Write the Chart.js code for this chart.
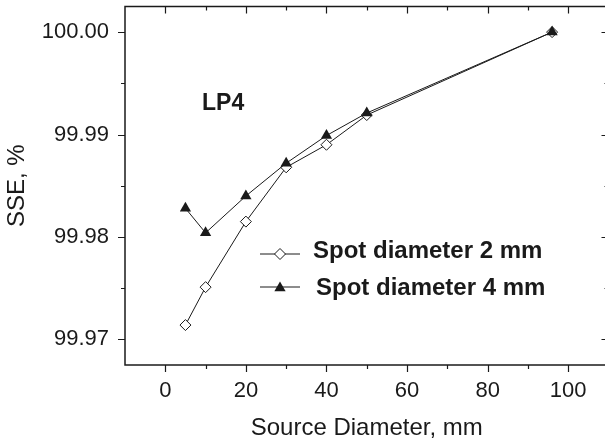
<!DOCTYPE html>
<html>
<head>
<meta charset="utf-8">
<script src="https://cdn.jsdelivr.net/npm/chart.js@4/dist/chart.umd.min.js"></script>
<style>
  html, body { margin: 0; padding: 0; background: #fff; overflow: hidden; }
  #wrap { position: absolute; left: 0; top: 0; width: 615px; height: 443px; }
</style>
</head>
<body>
<div id="wrap"><canvas id="sseChart" width="615" height="443"></canvas></div>
<script>
// source diameter (mm) and SSE (%)
const sourceDiameter = [5, 10, 20, 30, 40, 50, 96];
const sse2mm = [99.9714, 99.9751, 99.9815, 99.9868, 99.9890, 99.9919, 100.0000];
const sse4mm = [99.9828, 99.9804, 99.9840, 99.9872, 99.9899, 99.9921, 100.0000];
const seriesNames = ["Spot diameter 2 mm", "Spot diameter 4 mm"];

const xTicks = [0, 20, 40, 60, 80, 100];
const xMinor = [10, 30, 50, 70, 90];
const yTicks = [99.97, 99.98, 99.99, 100.00];
const yMinor = [99.975, 99.985, 99.995];

const ink = "#1a1a1a";

function toPoints(xs, ys) {
  let pts = [];
  for (let i = 0; i < xs.length; i++) {
    pts.push({x: xs[i], y: ys[i]});
  }
  return pts;
}

function diamond(ctx, x, y, r) {
  ctx.beginPath();
  ctx.moveTo(x, y - r);
  ctx.lineTo(x + r, y);
  ctx.lineTo(x, y + r);
  ctx.lineTo(x - r, y);
  ctx.closePath();
  ctx.fillStyle = "#fff";
  ctx.fill();
  ctx.lineWidth = 1;
  ctx.strokeStyle = ink;
  ctx.stroke();
}

function triangle(ctx, x, y, r) {
  ctx.beginPath();
  ctx.moveTo(x, y - r);
  ctx.lineTo(x + Math.sin(Math.PI / 3) * r, y + r / 2);
  ctx.lineTo(x - Math.sin(Math.PI / 3) * r, y + r / 2);
  ctx.closePath();
  ctx.fillStyle = ink;
  ctx.fill();
}

// frame, ticks on all four sides, the LP4 label and the legend
const framePlugin = {
  id: "frame",
  afterDraw(chart) {
    const ctx = chart.ctx;
    const a = chart.chartArea;
    const xs = chart.scales.x;
    const ys = chart.scales.y;
    ctx.save();
    ctx.strokeStyle = ink;
    ctx.lineWidth = 1.5;
    ctx.strokeRect(a.left, a.top, a.right - a.left, a.bottom - a.top);

    ctx.lineWidth = 1.2;
    ctx.beginPath();
    xTicks.concat(xMinor).forEach(v => {
      const len = xTicks.includes(v) ? 7 : 4;
      const px = Math.round(xs.getPixelForValue(v)) + 0.5;
      ctx.moveTo(px, a.bottom); ctx.lineTo(px, a.bottom + len);
      ctx.moveTo(px, a.top); ctx.lineTo(px, a.top + len);
    });
    yTicks.concat(yMinor).forEach(v => {
      const len = yTicks.includes(v) ? 7 : 4;
      const py = Math.round(ys.getPixelForValue(v)) + 0.5;
      ctx.moveTo(a.left, py); ctx.lineTo(a.left - len, py);
      ctx.moveTo(a.right, py); ctx.lineTo(a.right - len, py);
    });
    ctx.stroke();

    ctx.fillStyle = ink;
    ctx.textAlign = "left";
    ctx.textBaseline = "alphabetic";
    ctx.font = "bold 23px 'Liberation Sans', Arial, sans-serif";
    ctx.fillText("LP4", a.left + 77, a.top + 103);

    // legend
    ctx.font = "bold 24px 'Liberation Sans', Arial, sans-serif";
    const lx = a.left + 135;
    const rows = [a.top + 247, a.top + 280];
    rows.forEach((ry, i) => {
      ctx.strokeStyle = ink;
      ctx.lineWidth = 1;
      ctx.beginPath();
      ctx.moveTo(lx, ry + 0.5); ctx.lineTo(lx + 40, ry + 0.5);
      ctx.stroke();
      if (i === 0) diamond(ctx, lx + 20, ry + 0.5, 5.5);
      else triangle(ctx, lx + 20, ry + 1.5, 6.5);
      ctx.fillStyle = ink;
      ctx.fillText(seriesNames[i], lx + (i === 0 ? 53 : 56), ry + (i === 0 ? 4 : 8));
    });
    ctx.restore();
  }
};

const data = {
  datasets: [
    {
      label: seriesNames[1],
      data: toPoints(sourceDiameter, sse4mm),
      borderColor: ink,
      borderWidth: 1,
      pointStyle: "triangle",
      pointRadius: 6.5,
      pointBackgroundColor: ink,
      pointBorderColor: ink,
      pointBorderWidth: 0,
      order: 0
    },
    {
      label: seriesNames[0],
      data: toPoints(sourceDiameter, sse2mm),
      borderColor: ink,
      borderWidth: 1,
      pointStyle: "rectRot",
      pointRadius: 5.5,
      pointBackgroundColor: "#fff",
      pointBorderColor: ink,
      pointBorderWidth: 1,
      order: 1
    }
  ]
};

const config = {
  type: "line",
  data: data,
  options: {
    responsive: false,
    animation: false,
    devicePixelRatio: 1,
    layout: { padding: { top: 6, right: 4, left: 0, bottom: 0 } },
    plugins: { legend: { display: false }, tooltip: { enabled: false } },
    scales: {
      x: {
        type: "linear",
        min: -10,
        max: 110,
        afterBuildTicks: s => { s.ticks = xTicks.map(v => ({value: v})); },
        afterFit: s => { s.height = 78; s.paddingLeft = 0; s.paddingRight = 0; },
        grid: { display: false },
        border: { display: false },
        ticks: {
          color: ink,
          padding: 5,
          font: { family: "'Liberation Sans', Arial, sans-serif", size: 22 },
          callback: v => String(v)
        },
        title: {
          display: true,
          text: "Source Diameter, mm",
          color: ink,
          padding: { top: 0, bottom: 0 },
          font: { family: "'Liberation Sans', Arial, sans-serif", size: 24 }
        }
      },
      y: {
        type: "linear",
        min: 99.9675,
        max: 100.0025,
        afterBuildTicks: s => { s.ticks = yTicks.map(v => ({value: v})); },
        afterFit: s => { s.width = 125; s.paddingTop = 0; s.paddingBottom = 0; },
        grid: { display: false },
        border: { display: false },
        ticks: {
          color: ink,
          padding: 8,
          font: { family: "'Liberation Sans', Arial, sans-serif", size: 22 },
          callback: v => Number(v).toFixed(2)
        },
        title: {
          display: true,
          text: "SSE, %",
          color: ink,
          padding: { top: 3, bottom: 0 },
          font: { family: "'Liberation Sans', Arial, sans-serif", size: 24 }
        }
      }
    }
  },
  plugins: [framePlugin]
};

window.sseChart = new Chart(document.getElementById("sseChart"), config);
</script>
</body>
</html>
